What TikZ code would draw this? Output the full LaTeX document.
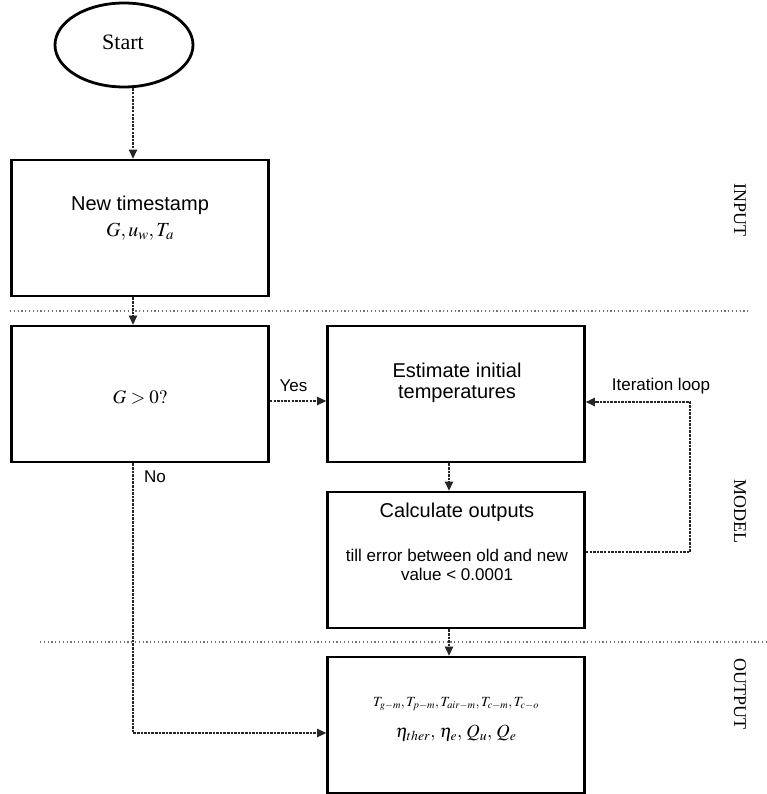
\documentclass[tikz,border=0pt]{standalone}
\usepackage{mathptmx}
\usepackage[no-math]{fontspec}
\setmainfont{Liberation Serif}
\newfontfamily\helv{Liberation Sans}
\usetikzlibrary{arrows.meta,shapes.geometric,calc}
\begin{document}
\begin{tikzpicture}[x=1pt,y=-1pt,
  box/.style={draw,line width=2.8pt,minimum width=257pt,minimum height=136pt,inner sep=0pt},
  flow/.style={draw=black!85,line width=1.1pt,dash pattern=on 2.5pt off 1.1pt,-{Triangle[length=9pt,width=8.5pt]}},
  sep/.style={draw=black!55,line width=1.1pt,dash pattern=on 1.2pt off 2.6pt},
  ttl/.style={font=\helv\fontsize{20}{22}\selectfont,inner sep=0pt},
  sml/.style={font=\helv\fontsize{17}{19}\selectfont,inner sep=0pt},
  side/.style={font=\fontsize{18}{20}\selectfont,rotate=-90,inner sep=0pt}]
\useasboundingbox (0,0) rectangle (766,794);
% nodes
\node[draw,ellipse,line width=2.8pt,minimum width=138pt,minimum height=84pt,inner sep=0pt] (start) at (124,45) {};
\node[font=\fontsize{22}{24}\selectfont,inner sep=0pt] (starttxt) at (123,42) {Start};
\node[box] (b1) at (140,228) {};
\node[box] (g) at (140,394) {};
\node[box] (est) at (456,394) {};
\node[box] (calc) at (456,560) {};
\node[box] (out) at (456,725) {};
% texts
\node[ttl] (t1) at (140,205) {New timestamp};
\node[inner sep=0pt,font=\fontsize{20}{22}\selectfont] (t1m) at (140,232) {$G{,}\,u_w{,}\,T_a$};
\node[inner sep=0pt,font=\fontsize{19}{21}\selectfont] (gt) at (140,397) {$G>0?$};
\node[ttl] (e1) at (457,370) {Estimate initial};
\node[ttl] (e2) at (457,394) {temperatures};
\node[ttl] (c1) at (457,512) {Calculate outputs};
\node[sml] (c2) at (457,555) {till error between old and new};
\node[sml] (c3) at (457,574) {value {\fontspec{Liberation Sans}<} 0.0001};
\node[inner sep=0pt,font=\fontsize{14}{16}\selectfont] (o1) at (456,704) {$T_{g-m}{,}\,T_{p-m}{,}\,T_{air-m}{,}\,T_{c-m}{,}\,T_{c-o}$};
\node[inner sep=0pt,font=\fontsize{18.5}{21}\selectfont] (o2) at (456,733) {$\eta_{ther}{,}\;\eta_e{,}\;Q_u{,}\;Q_e$};
% side labels
\node[side] (lin) at (740,210) {INPUT};
\node[side] (lmod) at (740,511) {MODEL};
\node[side] (lout) at (740,694) {OUTPUT};
% separators
\coordinate (s1a) at (10,311); \coordinate (s1b) at (750,311);
\coordinate (s2a) at (40,642); \coordinate (s2b) at (766,642);
\draw[sep] (s1a) -- (s1b);
\draw[sep] (s2a) -- (s2b);
% connectors
\draw[flow] ([xshift=9pt]start.south) -- ([xshift=-7pt]b1.north);
\draw[flow] ([xshift=-7pt]b1.south) -- ([xshift=-7pt]g.north);
\draw[flow] ([yshift=-7pt]g.east) -- node[sml,above=9pt,pos=0.42] (yes) {Yes} ([yshift=-7pt]est.west);
\draw[flow] ([xshift=-7pt]est.south) -- ([xshift=-7pt]calc.north);
\draw[flow] ([xshift=-7pt]calc.south) -- ([xshift=-7pt]out.north);
\coordinate (loopc) at (690,402);
\draw[flow] ([yshift=8pt]calc.east) -| (loopc) -- ([yshift=-8pt]est.east);
\node[sml] (itl) at (661,386) {Iteration loop};
\draw[flow] ([xshift=-7pt]g.south) |- ([yshift=-8pt]out.west);
\node[sml] (no) at (155,477) {No};
\end{tikzpicture}
\end{document}
